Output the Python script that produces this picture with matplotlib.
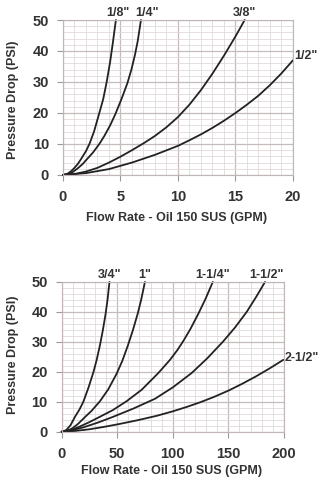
import numpy as np
import matplotlib.pyplot as plt
from matplotlib.ticker import MultipleLocator

plt.rcParams['font.family'] = ['Liberation Sans', 'DejaVu Sans']
plt.rcParams['font.weight'] = 'bold'

# *------------- top chart: small sizes, flow 0-20 GPM ------------------*
x_18 = [0, 0.4, 0.7, 1.0, 1.3, 1.6, 2.0, 2.3, 2.7, 3.16, 3.5, 3.8, 4.1, 4.35, 4.6]
y_18 = [0, 0.4, 1.2, 2.3, 3.6, 5.3, 7.7, 10, 14, 20, 24.5, 30, 36.5, 43, 50]
x_14 = [0, 0.4, 0.8, 1.3, 1.7, 2.06, 2.6, 3.16, 3.6, 4.1, 4.55, 5.1, 5.6, 5.95, 6.25, 6.5, 6.78]
y_14 = [0, 0.3, 0.8, 2.2, 3.5, 5, 7.2, 10, 12.6, 16.0, 19.6, 24.6, 29.6, 34, 38.6, 43.2, 50]
x_38 = [0, 1, 2, 3, 4, 5, 6, 7, 8, 9, 10, 11, 12, 13, 14, 15, 15.8]
y_38 = [0, 0.3, 1.1, 2.3, 4.0, 5.9, 8.0, 10.2, 12.6, 15.4, 18.7, 22.7, 27.4, 32.7, 38.5, 44.7, 50]
x_12 = [0, 2, 4, 6, 8, 10, 11, 12, 13, 14, 15, 16, 17, 18, 19, 20]
y_12 = [0, 0.6, 1.9, 4.0, 6.5, 9.4, 11.2, 13.1, 15.2, 17.5, 20.0, 22.7, 25.6, 29.0, 32.8, 37]

# *------------- bottom chart: big sizes, flow 0-200 GPM ------------------*
x_34 = [0, 4, 8, 12, 16, 19.5, 24, 28.5, 31.5, 34.5, 37, 39.5, 41.3, 43]
y_34 = [0, 0.5, 2.2, 5, 7.4, 10, 14.6, 19.8, 24, 29, 33.8, 39.3, 44.2, 50]
x_1 = [0, 5, 10, 15, 21, 27, 34.5, 42, 49.5, 54.5, 59.4, 64, 68.4, 71.5, 74.9]
y_1 = [0, 0.3, 1.2, 2.7, 4.9, 7.0, 10.2, 14.2, 19.4, 23.6, 28.6, 33.8, 39.4, 44, 50]
x_114 = [0, 8, 15, 25, 34.5, 46, 58.5, 72, 87, 97.5, 104, 109.5, 116, 123, 129.5, 136]
y_114 = [0, 0.5, 1.5, 3.2, 5, 7.2, 10.2, 14, 19.6, 24, 27.2, 30.3, 34.4, 39.4, 44.4, 50]
x_112 = [0, 10, 20, 33, 46.5, 65, 84, 100, 117, 131, 145, 156, 166.5, 175, 183]
y_112 = [0, 0.5, 1.5, 3.1, 5, 7.8, 11.0, 14.8, 19.6, 24.5, 30, 34.8, 40, 45, 50]
x_212 = [0, 12, 25, 38, 51, 68, 85.5, 100, 112, 124.5, 137, 150, 162.5, 175, 187, 199.5]
y_212 = [0, 0.25, 0.8, 1.6, 2.5, 3.8, 5.3, 6.8, 8.2, 9.8, 11.6, 13.7, 16, 18.5, 21.1, 24]

top_curves = [(x_18, y_18), (x_14, y_14), (x_38, y_38), (x_12, y_12)]
bot_curves = [(x_34, y_34), (x_1, y_1), (x_114, y_114), (x_112, y_112), (x_212, y_212)]

line_col = '#222222'
txt_col = '#333333'

fig = plt.figure(figsize=(3.23, 4.82), dpi=100)
ax1 = fig.add_axes([0.195, 0.637, 0.712, 0.3215])
ax2 = fig.add_axes([0.191, 0.1044, 0.688, 0.3106])


def style(ax, xmax, xmaj, xmin):
    ax.set_xlim(0, xmax)
    ax.set_ylim(0, 50)
    ax.xaxis.set_major_locator(MultipleLocator(xmaj))
    ax.xaxis.set_minor_locator(MultipleLocator(xmin))
    ax.yaxis.set_major_locator(MultipleLocator(10))
    ax.yaxis.set_minor_locator(MultipleLocator(2))
    ax.grid(which='minor', color='#e0d9d9', lw=0.6)
    ax.grid(which='major', color='#c6bcbc', lw=0.9)
    ax.set_axisbelow(True)
    for s in ax.spines.values():
        s.set_color('#c0b6b6')
        s.set_linewidth(0.8)
    ax.tick_params(which='major', length=4, color='#999999', labelsize=10.5,
                   labelcolor=txt_col)
    ax.tick_params(axis='x', pad=7)
    ax.tick_params(axis='y', pad=6)
    ax.tick_params(which='minor', length=0)
    for lab in ax.get_xticklabels() + ax.get_yticklabels():
        lab.set_fontweight('bold')


style(ax1, 20, 5, 1)
style(ax2, 200, 50, 10)

for xs, ys in top_curves:
    ax1.plot(xs, ys, color=line_col, lw=1.3, clip_on=False,
             solid_capstyle='round', solid_joinstyle='round')
for xs, ys in bot_curves:
    ax2.plot(xs, ys, color=line_col, lw=1.3, clip_on=False,
             solid_capstyle='round', solid_joinstyle='round')

kw = dict(fontsize=9, fontweight='bold', color=txt_col, clip_on=False)
ax1.text(4.8, 50.3, '1/8"', ha='center', va='bottom', **kw)
ax1.text(7.3, 50.3, '1/4"', ha='center', va='bottom', **kw)
ax1.text(15.8, 50.3, '3/8"', ha='center', va='bottom', **kw)
ax1.text(20.1, 38.4, '1/2"', ha='left', va='center', **kw)

ax2.text(43, 50.3, '3/4"', ha='center', va='bottom', **kw)
ax2.text(75, 50.3, '1"', ha='center', va='bottom', **kw)
ax2.text(136, 50.3, '1-1/4"', ha='center', va='bottom', **kw)
ax2.text(184, 50.3, '1-1/2"', ha='center', va='bottom', **kw)
ax2.text(201, 24.5, '2-1/2"', ha='left', va='center', **kw)

fig.text(0.548, 0.548, 'Flow Rate - Oil 150 SUS (GPM)', ha='center', va='center',
         fontsize=9, fontweight='bold', color=txt_col)
fig.text(0.040, 0.7925, 'Pressure Drop (PSI)', ha='center', va='center', rotation=90,
         fontsize=9, fontweight='bold', color=txt_col)
fig.text(0.531, 0.022, 'Flow Rate - Oil 150 SUS (GPM)', ha='center', va='center',
         fontsize=9, fontweight='bold', color=txt_col)
fig.text(0.040, 0.2635, 'Pressure Drop (PSI)', ha='center', va='center', rotation=90,
         fontsize=9, fontweight='bold', color=txt_col)

fig.savefig('out.png', dpi=100, facecolor='white')
